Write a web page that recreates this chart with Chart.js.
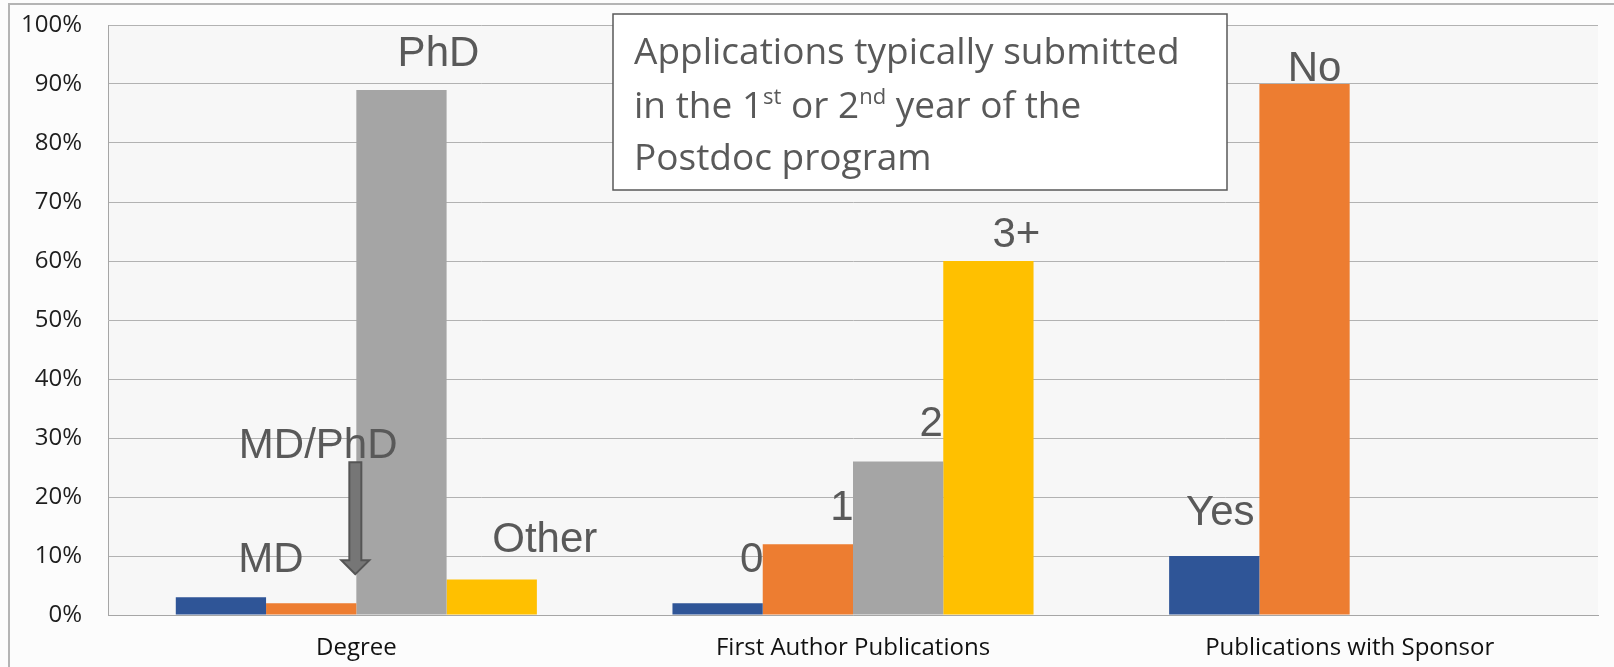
<!DOCTYPE html>
<html>
<head>
<meta charset="utf-8">
<script src="https://cdn.jsdelivr.net/npm/chart.js@4/dist/chart.umd.min.js"></script>
<style>
  html, body { margin: 0; padding: 0; background: #fcfcfc; }
  canvas { display: block; }
</style>
</head>
<body>
<canvas id="grafico" width="1614" height="667"></canvas>
<script>
// data
const categories = ['Degree', 'First Author Publications', 'Publications with Sponsor'];
const blueValues = [3, 2, 10];
const orangeValues = [2, 12, 90];
const grayValues = [89, 26, null];
const yellowValues = [6, 60, null];
const blueNames = ['MD', '0', 'Yes'];
const orangeNames = ['MD/PhD', '1', 'No'];
const grayNames = ['PhD', '2', ''];
const yellowNames = ['Other', '3+', ''];
const yTickLabels = ['0%', '10%', '20%', '30%', '40%', '50%', '60%', '70%', '80%', '90%', '100%'];

// where each bar's label sits, relative to the bar top (they were placed by hand)
const labelShift = [
    [[50, -25], [34, -31], [6, -31]],
    [[7, -145], [34, -24], [10, -3]],
    [[37, -24], [33, -26], [0, 0]],
    [[53, -28], [28, -14], [0, 0]]
];

const background = {
    id: 'background',
    beforeDraw(chart) {
        const ctx = chart.ctx;
        const a = chart.chartArea;
        ctx.save();
        ctx.fillStyle = '#fcfcfc';
        ctx.fillRect(0, 0, chart.width, chart.height);
        ctx.fillStyle = '#f7f7f7';
        ctx.fillRect(a.left, a.top, a.right - a.left, a.bottom - a.top);
        ctx.strokeStyle = '#b4b4b4';
        ctx.lineWidth = 2;
        ctx.beginPath();
        ctx.moveTo(9, chart.height);
        ctx.lineTo(9, 4);
        ctx.lineTo(chart.width, 4);
        ctx.stroke();
        ctx.restore();
    }
};

const barLabels = {
    id: 'barLabels',
    afterDatasetsDraw(chart) {
        const ctx = chart.ctx;
        ctx.save();
        ctx.font = '42px "Liberation Sans", Arial, sans-serif';
        ctx.fillStyle = '#595959';
        ctx.textAlign = 'center';
        ctx.textBaseline = 'alphabetic';
        chart.data.datasets.forEach((ds, i) => {
            chart.getDatasetMeta(i).data.forEach((bar, j) => {
                const txt = ds.names[j];
                if (!txt || ds.data[j] == null) return;
                ctx.fillText(txt, bar.x + labelShift[i][j][0], bar.y + labelShift[i][j][1]);
            });
        });

        // arrow pointing at the MD/PhD bar
        const b = chart.getDatasetMeta(1).data[0];
        const tx = b.x + b.width / 2 - 1;
        const ty = b.y - 29;
        ctx.beginPath();
        ctx.moveTo(tx, ty);
        ctx.lineTo(tx - 14, ty - 14);
        ctx.lineTo(tx - 6, ty - 14);
        ctx.lineTo(tx - 6, ty - 112);
        ctx.lineTo(tx + 6, ty - 112);
        ctx.lineTo(tx + 6, ty - 14);
        ctx.lineTo(tx + 14, ty - 14);
        ctx.closePath();
        ctx.fillStyle = '#767676';
        ctx.fill();
        ctx.strokeStyle = '#555555';
        ctx.lineWidth = 2;
        ctx.stroke();
        ctx.restore();
    }
};

const note = {
    id: 'note',
    afterDraw(chart) {
        const ctx = chart.ctx;
        ctx.save();
        ctx.fillStyle = '#ffffff';
        ctx.fillRect(613, 14, 614, 176);
        ctx.strokeStyle = '#595959';
        ctx.lineWidth = 1.5;
        ctx.strokeRect(613, 14, 614, 176);

        ctx.fillStyle = '#595959';
        ctx.textAlign = 'left';
        ctx.textBaseline = 'alphabetic';
        const big = '37px "Open Sans", sans-serif';
        const small = '22px "Open Sans", sans-serif';
        ctx.font = big;
        ctx.fillText('Applications typically submitted', 634, 64);
        ctx.fillText('Postdoc program', 634, 170);

        const parts = [['in the 1', false], ['st', true], [' or 2', false], ['nd', true], [' year of the', false]];
        let x = 634;
        parts.forEach(([t, sup]) => {
            ctx.font = sup ? small : big;
            ctx.fillText(t, x, sup ? 104 : 118);
            x += ctx.measureText(t).width;
        });
        ctx.restore();
    }
};

const ctx1 = document.getElementById('grafico');

new Chart(ctx1, {
    type: 'bar',
    data: {
        labels: categories,
        datasets: [
            { data: blueValues, names: blueNames, backgroundColor: '#2f5597' },
            { data: orangeValues, names: orangeNames, backgroundColor: '#ed7d31' },
            { data: grayValues, names: grayNames, backgroundColor: '#a5a5a5' },
            { data: yellowValues, names: yellowNames, backgroundColor: '#ffc000' }
        ]
    },
    options: {
        responsive: false,
        animation: false,
        devicePixelRatio: 1,
        layout: { padding: { top: 25, right: 16, bottom: 0, left: 0 } },
        datasets: { bar: { categoryPercentage: 0.727, barPercentage: 1 } },
        plugins: { legend: { display: false }, tooltip: { enabled: false } },
        scales: {
            x: {
                grid: { display: false, drawTicks: false },
                border: { color: '#a6a6a6' },
                ticks: {
                    font: { family: 'Open Sans', size: 24 },
                    color: '#111111',
                    padding: 19
                },
                afterFit: s => { s.height = 52; }
            },
            y: {
                min: 0,
                max: 100,
                grid: { color: '#b2b2b2', drawTicks: false },
                border: { color: '#a6a6a6' },
                ticks: {
                    stepSize: 10,
                    font: { family: 'Open Sans', size: 24 },
                    color: '#1e1e1e',
                    padding: 26,
                    callback: (v, i) => yTickLabels[i]
                },
                afterFit: s => {
                    s.width = 108;
                    s.paddingTop = 0;
                    s.paddingBottom = 0;
                }
            }
        }
    },
    plugins: [background, barLabels, note]
});
</script>
</body>
</html>
